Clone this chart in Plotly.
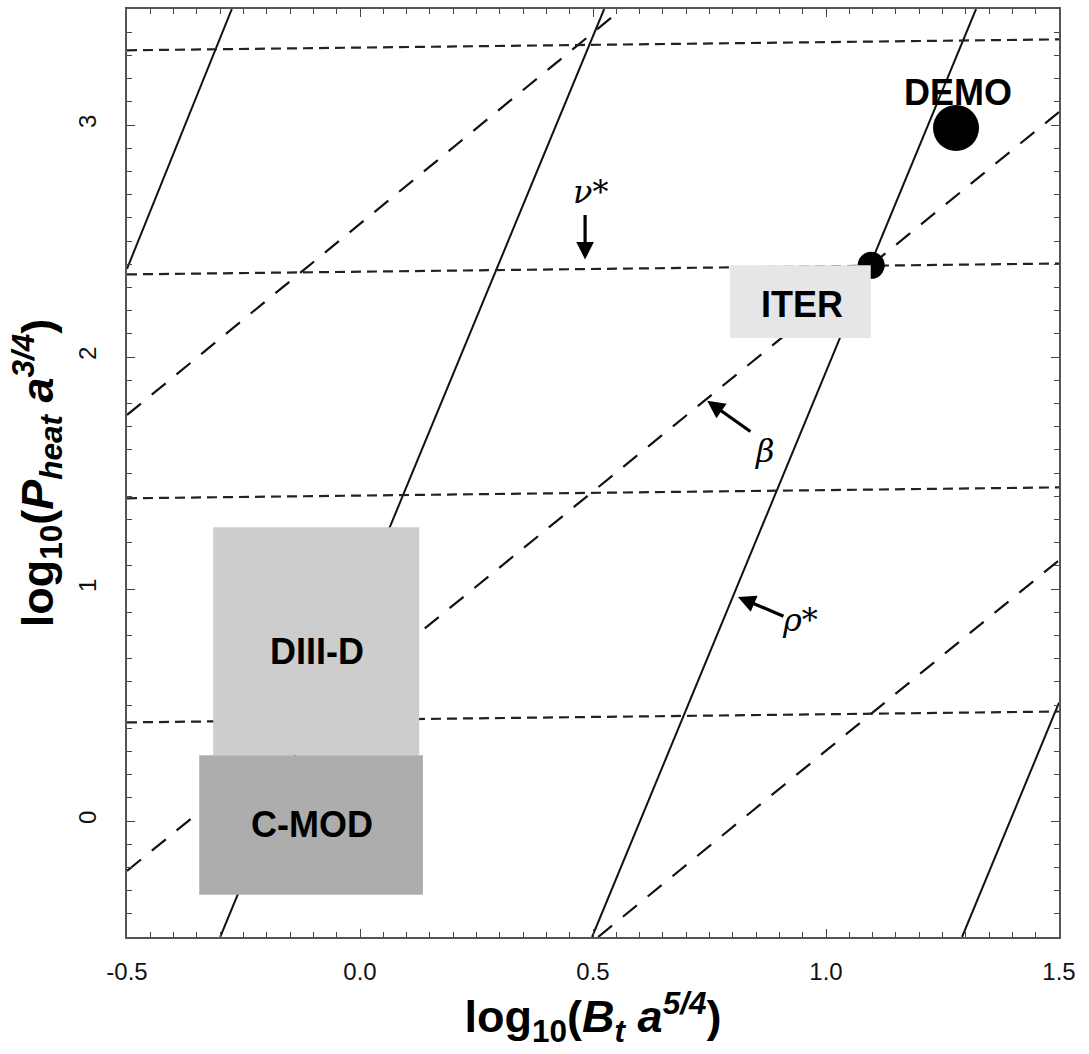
import plotly.graph_objects as go

# ---- data ----
# rho* lines (solid): endpoints clipped to the axes (x0, y0, x1, y1)
rho_x0 = [-0.50, -0.30, 0.498, 1.292]
rho_y0 = [2.38, -0.50, -0.50, -0.50]
rho_x1 = [-0.275, 0.524, 1.322, 1.50]
rho_y1 = [3.50, 3.50, 3.50, 0.51]

# beta lines (long dash)
beta_x0 = [-0.50, -0.50, 0.511]
beta_y0 = [1.75, -0.215, -0.50]
beta_x1 = [0.562, 1.50, 1.50]
beta_y1 = [3.50, 3.056, 1.124]

# nu* lines (short dash)
nu_x0 = [-0.50, -0.50, -0.50, -0.50]
nu_y0 = [3.322, 2.356, 1.391, 0.425]
nu_x1 = [1.50, 1.50, 1.50, 1.50]
nu_y1 = [3.369, 2.403, 1.438, 0.472]

# machine boxes
box_names = ["DIII-D", "C-MOD", "ITER"]
box_x0 = [-0.315, -0.345, 0.794]
box_x1 = [0.127, 0.135, 1.096]
box_y0 = [0.283, -0.318, 2.082]
box_y1 = [1.266, 0.283, 2.395]
box_colors = ["#cdcdcd", "#adadad", "#e6e5e8"]
box_text_x = [-0.092, -0.103, 0.948]
box_text_y = [0.730, -0.013, 2.227]

# operating points
pt_names = ["ITER", "DEMO"]
pt_x = [1.097, 1.279]
pt_y = [2.395, 2.987]
pt_size = [27, 46]
demo_label_x = 1.283
demo_label_y = 3.142

# labelled arrows: (tip x, tip y, tail x, tail y, label, label x, label y)
arrow_tip_x = [0.483, 0.745, 0.811]
arrow_tip_y = [2.42, 1.811, 0.966]
arrow_tail_x = [0.483, 0.841, 0.912]
arrow_tail_y = [2.618, 1.674, 0.880]
arrow_labels = ["<i>ν</i>*", "<i>β</i>", "<i>ρ</i>*"]
arrow_label_x = [0.494, 0.869, 0.944]
arrow_label_y = [2.712, 1.597, 0.867]

x_ticks = [-0.5, 0.0, 0.5, 1.0, 1.5]
y_ticks = [0, 1, 2, 3]

fig = go.Figure()

for i in range(len(rho_x0)):
    fig.add_trace(go.Scatter(x=[rho_x0[i], rho_x1[i]], y=[rho_y0[i], rho_y1[i]],
                             mode="lines", line=dict(color="#111111", width=2),
                             showlegend=False, hoverinfo="skip"))
for i in range(len(beta_x0)):
    fig.add_trace(go.Scatter(x=[beta_x0[i], beta_x1[i]], y=[beta_y0[i], beta_y1[i]],
                             mode="lines", line=dict(color="#111111", width=2.2, dash="18px,14px"),
                             showlegend=False, hoverinfo="skip"))
for i in range(len(nu_x0)):
    fig.add_trace(go.Scatter(x=[nu_x0[i], nu_x1[i]], y=[nu_y0[i], nu_y1[i]],
                             mode="lines", line=dict(color="#222222", width=2.2, dash="10px,6px"),
                             showlegend=False, hoverinfo="skip"))

fig.add_trace(go.Scatter(x=pt_x, y=pt_y, mode="markers", text=pt_names, opacity=1,
                         marker=dict(color="#000000", size=pt_size, opacity=1,
                                     line=dict(width=0, color="#000000")),
                         showlegend=False, hoverinfo="text"))

shapes = []
for i in range(len(box_names)):
    shapes.append(dict(type="rect", xref="x", yref="y",
                       x0=box_x0[i], x1=box_x1[i], y0=box_y0[i], y1=box_y1[i],
                       fillcolor=box_colors[i], line=dict(width=0), layer="above"))

annotations = []
for i in range(len(box_names)):
    annotations.append(dict(x=box_text_x[i], y=box_text_y[i], xref="x", yref="y",
                            text="<b>%s</b>" % box_names[i], showarrow=False,
                            font=dict(family="Liberation Sans, Arial", size=36, color="#000000")))
annotations.append(dict(x=demo_label_x, y=demo_label_y, xref="x", yref="y",
                        text="<b>DEMO</b>", showarrow=False,
                        font=dict(family="Liberation Sans, Arial", size=36, color="#000000")))
for i in range(len(arrow_labels)):
    annotations.append(dict(x=arrow_tip_x[i], y=arrow_tip_y[i], ax=arrow_tail_x[i], ay=arrow_tail_y[i],
                            xref="x", yref="y", axref="x", ayref="y", text="",
                            showarrow=True, arrowhead=2, arrowsize=1.1, arrowwidth=3.2,
                            arrowcolor="#000000"))
    annotations.append(dict(x=arrow_label_x[i], y=arrow_label_y[i], xref="x", yref="y",
                            text=arrow_labels[i], showarrow=False,
                            font=dict(family="DejaVu Serif, Liberation Serif", size=32, color="#000000")))

axis_common = dict(showgrid=False, zeroline=False, showline=True, linecolor="#555555",
                   linewidth=1.5, mirror="ticks", ticks="inside", ticklen=8, tickwidth=1.2,
                   tickcolor="#444444",
                   tickfont=dict(family="Liberation Sans, Arial", size=24, color="#111111"))

fig.update_layout(
    width=1089, height=1054,
    margin=dict(l=127, r=30, t=7, b=117),
    paper_bgcolor="white", plot_bgcolor="white",
    shapes=shapes, annotations=annotations,
    xaxis=dict(range=[-0.5, 1.5], tickvals=x_ticks, ticktext=["%.1f" % v for v in x_ticks],
               minor=dict(dtick=0.05, ticks="inside", ticklen=5, tickcolor="#444444"),
               ticklabelstandoff=12,
               title=dict(text="<b>log<sub>10</sub>(<i>B<sub>t</sub> a<sup>5/4</sup></i>)</b>",
                          font=dict(family="Liberation Sans, Arial", size=45, color="#000000"),
                          standoff=10),
               **axis_common),
    yaxis=dict(range=[-0.5, 3.5], tickvals=y_ticks, tickangle=-90,
               minor=dict(dtick=0.1, ticks="inside", ticklen=5, tickcolor="#444444"),
               ticklabelstandoff=20,
               title=dict(text="<b>log<sub>10</sub>(<i>P<sub>heat</sub> a<sup>3/4</sup></i>)</b>",
                          font=dict(family="Liberation Sans, Arial", size=45, color="#000000"),
                          standoff=6),
               **axis_common),
)

fig.write_html("out.html")
